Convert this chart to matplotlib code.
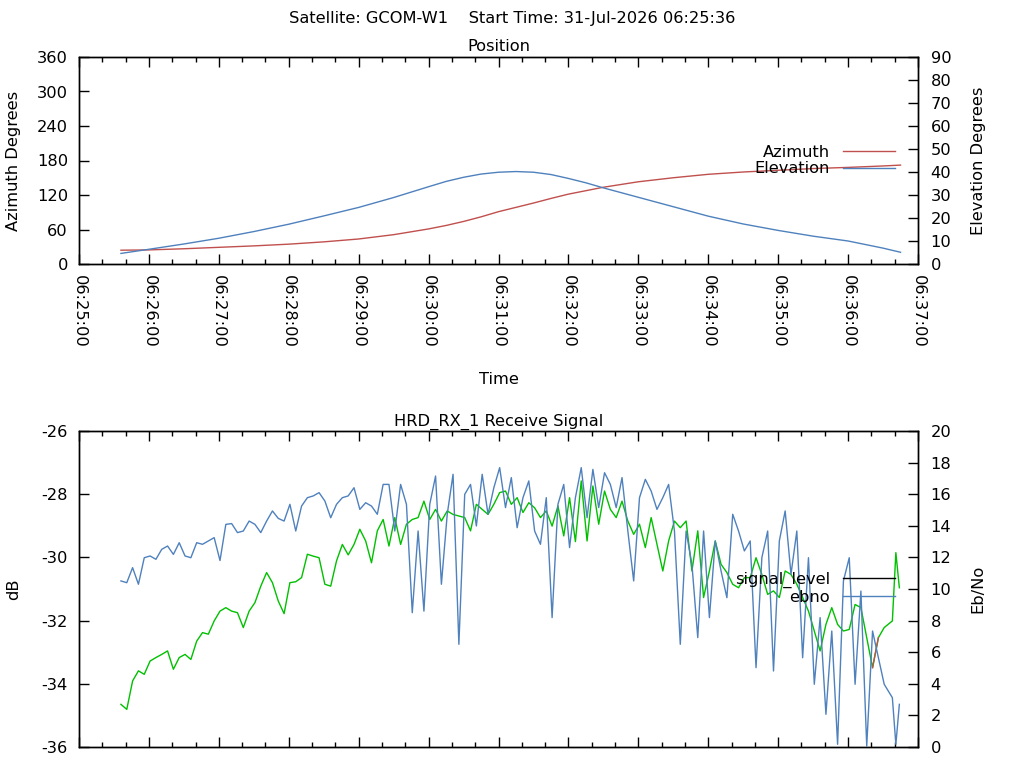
import numpy as np
import matplotlib
matplotlib.use("Agg")
import matplotlib.pyplot as plt
import matplotlib.dates as mdates
from matplotlib.lines import Line2D
from datetime import datetime, timedelta

plt.rcParams['font.family'] = ['DejaVu Sans']
plt.rcParams['font.size'] = 11.7
plt.rcParams['axes.unicode_minus'] = False

start = datetime(2026, 7, 31, 6, 25, 0)

# position samples (seconds after 06:25:00)
pos_sec = [36, 60, 90, 120, 150, 180, 210, 240, 270, 300, 315, 330, 345, 360,
           375, 390, 405, 420, 435, 450, 480, 510, 540, 570, 600, 630, 660, 690, 705]
azimuth = [24, 24.5, 26.5, 29, 31.5, 34.5, 38.5, 43.5, 51, 61, 67, 74, 82, 91,
           98.5, 106, 114, 121.5, 127.5, 133.5, 143, 150, 156, 160, 163, 166, 168, 170.5, 172]
elevation = [4.6, 6.4, 8.7, 11.2, 14.1, 17.3, 20.9, 24.6, 28.9, 33.6, 35.9, 37.7, 39.1, 39.9,
             40.2, 39.9, 38.9, 37.2, 35.3, 33.1, 29.0, 24.9, 20.8, 17.4, 14.6, 12.1, 10.0, 6.9, 5.1]

# receive signal samples
sig_sec = list(range(36, 692, 5)) + [698, 701, 704]
signal_level = [
    -34.65, -34.81, -33.91, -33.59, -33.70, -33.28, -33.17, -33.07, -32.96, -33.54,
    -33.17, -33.07, -33.23, -32.65, -32.38, -32.43, -32.01, -31.70, -31.59, -31.70,
    -31.75, -32.22, -31.70, -31.43, -30.91, -30.48, -30.80, -31.38, -31.78, -30.80,
    -30.77, -30.64, -29.90, -29.96, -30.01, -30.85,
    -30.91, -30.11, -29.59, -29.92, -29.59, -29.11, -29.48, -30.17, -29.16, -28.80,
    -29.64, -28.74, -29.59, -28.95, -28.80, -28.74, -28.22, -28.80, -28.48, -28.85,
    -28.53, -28.64, -28.69, -28.74, -29.16, -28.32, -28.48, -28.64, -28.32, -27.95,
    -27.90, -28.32, -28.11, -28.58, -28.27, -28.43,
    -28.74, -28.53, -29.01, -28.37, -29.32, -28.11, -29.50, -27.58, -29.48, -27.74,
    -28.95, -27.90, -28.48, -28.74, -28.22, -28.85, -29.27, -28.95, -29.69, -28.74,
    -29.59, -30.43, -29.48, -28.85, -29.06, -28.85, -30.43, -29.16, -31.27, -30.43,
    -29.48, -30.22, -30.48, -30.85,
    -30.96, -30.64, -30.64, -30.01, -30.54, -31.17, -31.06, -31.27, -30.43, -30.54,
    -30.85, -31.27, -31.70, -32.33, -32.96, -32.12, -31.59, -32.12, -32.33, -32.28,
    -31.49, -31.59, -32.54, -33.49, -32.54, -32.22,
    -32.01, -29.85, -30.96]
ebno = [
    10.51, 10.40, 11.35, 10.30, 11.98, 12.09, 11.88, 12.51, 12.72, 12.19,
    12.93, 12.09, 11.98, 12.93, 12.83, 13.04, 13.25, 11.80, 14.09, 14.14,
    13.57, 13.67, 14.30, 14.09, 13.57, 14.30, 14.94, 14.47, 14.30, 15.36,
    13.67, 15.25, 15.78, 15.89, 16.10, 15.57,
    14.51, 15.36, 15.78, 15.89, 16.41, 15.04, 15.46, 15.25, 14.73, 16.62,
    16.62, 13.67, 16.62, 15.36, 8.50, 13.67, 8.60, 15.36, 17.15, 10.30,
    14.73, 17.26, 6.50, 15.99, 16.62, 13.99, 17.26, 14.73, 16.41, 17.68,
    15.15, 17.05, 13.88, 15.78, 16.84, 13.67,
    12.83, 15.78, 8.19, 15.36, 16.62, 12.62, 15.78, 17.68, 14.51, 17.57,
    15.15, 17.36, 16.62, 15.15, 17.05, 13.67, 10.51, 15.78, 16.94, 16.20,
    15.04, 15.78, 16.62, 13.67, 6.50, 13.67, 11.56, 6.92, 13.67, 8.19,
    13.04, 11.14, 9.45, 14.73,
    13.67, 12.41, 13.04, 5.02, 11.98, 13.67, 4.81, 13.04, 14.94, 10.93,
    13.67, 5.65, 11.98, 3.97, 8.19, 2.07, 7.34, 0.17, 10.51, 11.98,
    3.97, 9.87, 0.06, 7.34, 5.65, 3.97,
    3.12, 0.17, 2.70]

# short stretches of the signal trace drawn in red
red_spans = [(681, 686)]

pos_t = [start + timedelta(seconds=s) for s in pos_sec]
sig_t = [start + timedelta(seconds=s) for s in sig_sec]
sig_sec_a = np.array(sig_sec)
sig_a = np.array(signal_level)
sig_t_a = np.array(sig_t)

RED = '#c0504d'
BLUE = '#4f81bd'
GREEN = '#00c000'

fig = plt.figure(figsize=(10.24, 7.68), dpi=100)
fig.text(0.5, 1 - 18 / 768, 'Satellite: GCOM-W1    Start Time: 31-Jul-2026 06:25:36',
         ha='center', va='center')

ax1 = fig.add_axes([79 / 1024, 1 - 264 / 768, 839 / 1024, 207 / 768])
ax3 = fig.add_axes([79 / 1024, 1 - 747 / 768, 839 / 1024, 316 / 768])

# top: position
ax1.plot(pos_t, azimuth, color=RED, lw=1.0)
ax2 = ax1.twinx()
ax2.plot(pos_t, elevation, color=BLUE, lw=1.0)
ax1.set_ylim(0, 360)
ax1.set_yticks(np.arange(0, 361, 60))
ax2.set_ylim(0, 90)
ax2.set_yticks(np.arange(0, 91, 10))
ax1.set_title('Position', fontsize=11.7, pad=4)
ax1.set_ylabel('Azimuth Degrees')
ax2.set_ylabel('Elevation Degrees')
ax1.set_xlabel('Time')
ax1.yaxis.set_label_coords(-0.069, 0.5)
ax2.yaxis.set_label_coords(1.063, 0.5)
ax1.xaxis.set_label_coords(0.5, -0.52)
ax1.xaxis.label.set_va('top')

h_top = [Line2D([], [], color=RED, lw=1.0), Line2D([], [], color=BLUE, lw=1.0)]
ax2.legend(h_top, ['Azimuth', 'Elevation'], loc='center right',
           bbox_to_anchor=(0.9726, 0.5), frameon=False, markerfirst=False,
           handlelength=3.2, handletextpad=0.8, borderpad=0, borderaxespad=0,
           labelspacing=0.1)

# bottom: receive signal
ax3.plot(sig_t, signal_level, color=GREEN, lw=1.0)
for a, b in red_spans:
    m = (sig_sec_a >= a) & (sig_sec_a <= b)
    ax3.plot(sig_t_a[m], sig_a[m], color=RED, lw=1.0)
ax4 = ax3.twinx()
ax4.plot(sig_t, ebno, color=BLUE, lw=1.0)
ax3.set_ylim(-36, -26)
ax3.set_yticks(np.arange(-36, -25, 2))
ax4.set_ylim(0, 20)
ax4.set_yticks(np.arange(0, 21, 2))
ax3.set_title('HRD_RX_1 Receive Signal', fontsize=11.7, pad=4)
ax3.set_ylabel('dB')
ax4.set_ylabel('Eb/No')
ax3.yaxis.set_label_coords(-0.069, 0.5)
ax4.yaxis.set_label_coords(1.063, 0.5)

h_bot = [Line2D([], [], color='black', lw=1.0), Line2D([], [], color=BLUE, lw=1.0)]
ax4.legend(h_bot, ['signal_level', 'ebno'], loc='center right',
           bbox_to_anchor=(0.9726, 0.5016), frameon=False, markerfirst=False,
           handlelength=3.2, handletextpad=0.8, borderpad=0, borderaxespad=0,
           labelspacing=0.1)

for ax in (ax1, ax3):
    ax.set_xlim(start, start + timedelta(minutes=12))
    ax.xaxis.set_major_locator(mdates.MinuteLocator())
    ax.xaxis.set_minor_locator(mdates.SecondLocator(bysecond=[20, 40]))
    ax.xaxis.set_major_formatter(mdates.DateFormatter('%H:%M:%S'))
    ax.tick_params(axis='x', which='both', direction='in', top=True, bottom=True, pad=8)
    ax.tick_params(axis='x', which='major', length=7, width=1)
    ax.tick_params(axis='x', which='minor', length=3.5, width=1)
    ax.tick_params(axis='y', direction='in', length=7, width=1, pad=8)
for ax in (ax2, ax4):
    ax.tick_params(axis='y', direction='in', length=7, width=1, pad=9)
for ax in (ax1, ax2, ax3, ax4):
    for sp in ax.spines.values():
        sp.set_linewidth(1.0)

plt.setp(ax1.get_xticklabels(), rotation=-90, ha='center', va='top')
ax3.tick_params(axis='x', labelbottom=False)

fig.savefig('out.png', dpi=100)
